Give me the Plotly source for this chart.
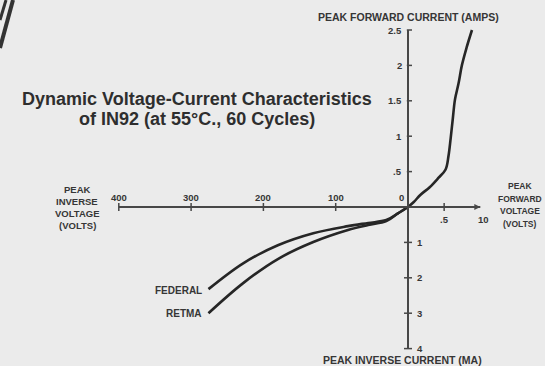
import plotly.graph_objects as go

# ---- data (real units) ----
# forward branch: peak forward voltage (V) vs peak forward current (A)
fwd_volts = [0, 0.08, 0.17, 0.30, 0.42, 0.52, 0.56, 0.59, 0.62, 0.65, 0.70, 0.745, 0.81, 0.885]
fwd_amps = [0, 0.07, 0.17, 0.28, 0.41, 0.53, 0.72, 0.97, 1.25, 1.52, 1.75, 2.0, 2.25, 2.5]

# inverse branch: peak inverse voltage (V) vs peak inverse current (mA)
federal_volts = [0, 14, 30, 55, 83, 131, 180, 228, 276]
federal_ma = [0, 0.18, 0.37, 0.45, 0.54, 0.74, 1.08, 1.59, 2.32]
retma_volts = [0, 14, 30, 55, 83, 131, 180, 228, 276]
retma_ma = [0, 0.18, 0.40, 0.51, 0.65, 0.99, 1.47, 2.15, 3.0]

# tick values for each half-axis
inv_volt_ticks = [400, 300, 200, 100]
fwd_volt_ticks = [0.5, 1.0]
fwd_volt_labels = [".5", "10"]
fwd_amp_ticks = [0.5, 1.0, 1.5, 2.0, 2.5]
fwd_amp_labels = [".5", "1", "1.5", "2", "2.5"]
inv_ma_ticks = [1, 2, 3, 4]


# the chart uses different scales in each direction; map to a common plane
def xf(v):  # forward volts
    return v


def xi(v):  # inverse volts (plotted to the left)
    return -v / 100.0


def yf(a):  # forward amps
    return 2.0 * a


def yi(ma):  # inverse milliamps (plotted downward)
    return -ma


INK = "#262626"
TXT = "#363636"
BG = "#ebebeb"
W, H = 545, 366
X0, Y0 = 408, 207      # origin in pixels
SX, SY = 72.3, 35.4    # pixels per plot unit

fig = go.Figure()

fig.add_trace(go.Scatter(x=[xf(v) for v in fwd_volts], y=[yf(a) for a in fwd_amps],
                         mode="lines", line=dict(color=INK, width=2.6, shape="spline"),
                         hoverinfo="skip"))
fig.add_trace(go.Scatter(x=[xi(v) for v in federal_volts], y=[yi(m) for m in federal_ma],
                         mode="lines", line=dict(color=INK, width=2.6, shape="spline"),
                         name="FEDERAL", hoverinfo="skip"))
fig.add_trace(go.Scatter(x=[xi(v) for v in retma_volts], y=[yi(m) for m in retma_ma],
                         mode="lines", line=dict(color=INK, width=2.6, shape="spline"),
                         name="RETMA", hoverinfo="skip"))

shapes = []
ann = []
AXC = "#474747"
AX = dict(color=AXC, width=2)

# axis lines
shapes.append(dict(type="line", x0=xi(400), y0=0, x1=xf(1.0), y1=0, line=AX))
shapes.append(dict(type="line", x0=0, y0=yf(2.5), x1=0, y1=yi(4), line=AX))

tx = 4 / SY
ty = 4 / SX
# ticks on the horizontal axis
for v in inv_volt_ticks:
    shapes.append(dict(type="line", x0=xi(v), x1=xi(v), y0=-tx, y1=tx, line=dict(color=AXC, width=1.5)))
for v in fwd_volt_ticks[:-1]:
    shapes.append(dict(type="line", x0=xf(v), x1=xf(v), y0=-tx, y1=tx, line=dict(color=AXC, width=1.5)))
# ticks on the vertical axis
for a in fwd_amp_ticks:
    shapes.append(dict(type="line", x0=-ty * 0.3, x1=ty, y0=yf(a), y1=yf(a), line=dict(color=AXC, width=1.5)))
for m in inv_ma_ticks:
    shapes.append(dict(type="line", x0=-ty, x1=ty, y0=yi(m), y1=yi(m), line=dict(color=AXC, width=1.5)))

# arrow at right end of voltage axis
ann.append(dict(x=xf(1.0), y=0, ax=xf(0.95), ay=0, xref="x", yref="y", axref="x", ayref="y",
                showarrow=True, arrowhead=2, arrowsize=0.8, arrowwidth=1.5, arrowcolor=AXC, text=""))

TF = dict(family="Liberation Sans", size=9.5, color=TXT)

# tick labels
for v in inv_volt_ticks:
    ann.append(dict(x=xi(v), y=10 / SY, text=f"<b>{v}</b>", showarrow=False, font=TF))
ann.append(dict(x=-7 / SX, y=10 / SY, text="<b>0</b>", showarrow=False, font=TF))
for v, lab in zip(fwd_volt_ticks, fwd_volt_labels):
    dx = 3 / SX if v == 1.0 else 0
    ann.append(dict(x=xf(v) + dx, y=-12 / SY, text=f"<b>{lab}</b>", showarrow=False, font=TF))
for a, lab in zip(fwd_amp_ticks, fwd_amp_labels):
    ann.append(dict(x=-4 / SX, y=yf(a), text=f"<b>{lab}</b>", showarrow=False, font=TF, xanchor="right"))
for m in inv_ma_ticks:
    ann.append(dict(x=7 / SX, y=yi(m), text=f"<b>{m}</b>", showarrow=False, font=TF, xanchor="left"))


def px(xp, yp):
    return (xp - X0) / SX, (Y0 - yp) / SY


# axis titles
SF = dict(family="Liberation Sans", size=10.5, color=TXT)
x, y = px(408, 17)
ann.append(dict(x=x, y=y, text="<b>PEAK FORWARD CURRENT (AMPS)</b>", showarrow=False, font=SF))
x, y = px(402, 360)
ann.append(dict(x=x, y=y, text="<b>PEAK INVERSE CURRENT (MA)</b>", showarrow=False, font=SF))

SF2 = dict(family="Liberation Sans", size=9.5, color=TXT)
for i, line in enumerate(["PEAK", "INVERSE", "VOLTAGE", "(VOLTS)"]):
    x, y = px(77, 189 + 12 * i)
    ann.append(dict(x=x, y=y, text=f"<b>{line}</b>", showarrow=False, font=SF2))
SF3 = dict(family="Liberation Sans", size=8.5, color=TXT)
for i, line in enumerate(["PEAK", "FORWARD", "VOLTAGE", "(VOLTS)"]):
    x, y = px(520, 186 + 12.5 * i)
    ann.append(dict(x=x, y=y, text=f"<b>{line}</b>", showarrow=False, font=SF3))

# curve names at the ends of the inverse curves
LF = dict(family="Liberation Sans", size=10, color=TXT)
ann.append(dict(x=xi(federal_volts[-1]) - 4 / SX, y=yi(federal_ma[-1]) - 1 / SY, text="<b>FEDERAL</b>",
                showarrow=False, font=LF, xanchor="right"))
ann.append(dict(x=xi(retma_volts[-1]) - 4 / SX, y=yi(retma_ma[-1]), text="<b>RETMA</b>",
                showarrow=False, font=LF, xanchor="right"))

# heading
HF = dict(family="Liberation Sans", size=18, color="#2e2e2e")
x, y = px(197, 99)
ann.append(dict(x=x, y=y, text="<b>Dynamic Voltage-Current Characteristics</b>", showarrow=False, font=HF))
x, y = px(197, 119)
ann.append(dict(x=x, y=y, text="<b>of IN92 (at 55°C., 60 Cycles)</b>", showarrow=False, font=HF))

# dark page edge in the upper-left corner
for (xa, ya, xb, yb, w) in [(13, 0, 0, 48, 4), (6, 0, 0, 20, 3)]:
    shapes.append(dict(type="line", xref="paper", yref="paper",
                       x0=xa / W, y0=1 - ya / H, x1=xb / W, y1=1 - yb / H,
                       line=dict(color="#333333", width=w)))

fig.update_layout(
    width=W, height=H,
    margin=dict(l=0, r=0, t=0, b=0),
    paper_bgcolor=BG, plot_bgcolor=BG,
    showlegend=False,
    xaxis=dict(range=[-X0 / SX, (W - X0) / SX], visible=False, fixedrange=True),
    yaxis=dict(range=[-(H - Y0) / SY, Y0 / SY], visible=False, fixedrange=True),
    shapes=shapes, annotations=ann,
)

fig.write_html("out.html")
